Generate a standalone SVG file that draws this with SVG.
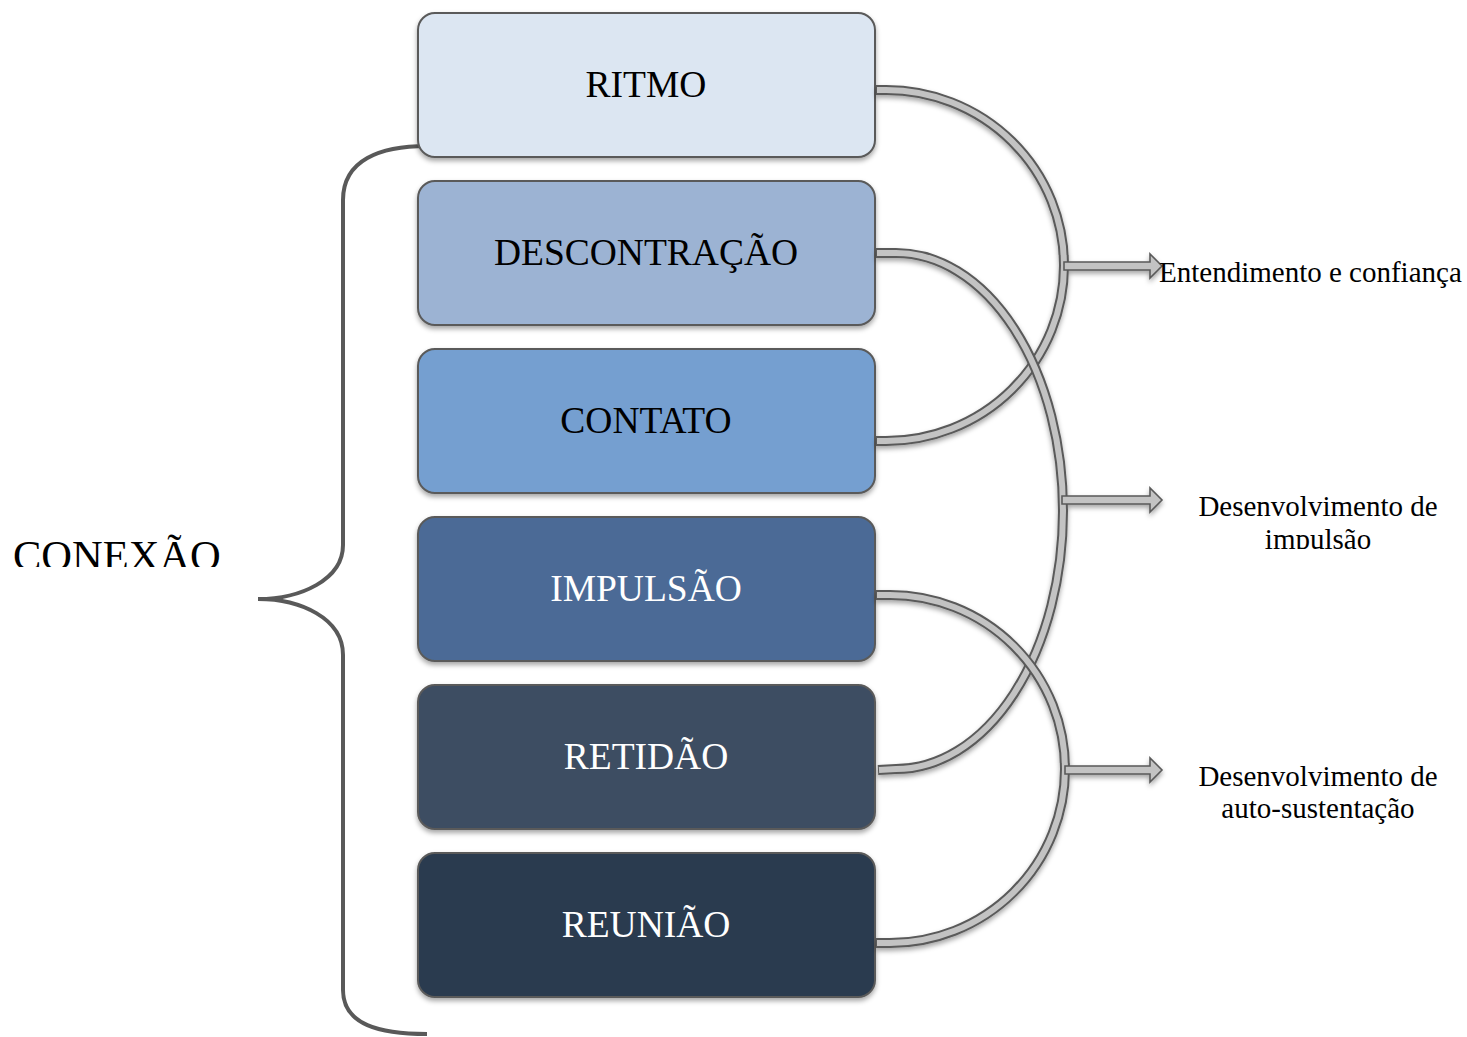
<svg xmlns="http://www.w3.org/2000/svg" width="1467" height="1037" viewBox="0 0 1467 1037">
<defs>
<filter id="sh" x="-10%" y="-10%" width="120%" height="130%">
<feDropShadow dx="0" dy="3" stdDeviation="2.5" flood-color="#000" flood-opacity="0.35"/>
</filter>
<clipPath id="clipCon"><rect x="0" y="500" width="300" height="67"/></clipPath>
<clipPath id="clipImp"><rect x="1150" y="480" width="317" height="69"/></clipPath>
</defs>
<style>
.box{stroke:#5a5a5a;stroke-width:2;filter:url(#sh)}
.lbl{font-family:"Liberation Serif",serif;font-size:37.5px;text-anchor:middle}
.dk{fill:#000}
.wt{fill:#fff}
.bandO{fill:none;stroke:#5a5a5a;stroke-width:10}
.bandI{fill:none;stroke:#c3c3c3;stroke-width:6}
.arr{fill:#c3c3c3;stroke:#5a5a5a;stroke-width:1.6;stroke-linejoin:miter}
.out{font-family:"Liberation Serif",serif;font-size:29px;fill:#000}
</style>
<g id="brace">
<path d="M427,146 C380,146 343,160 343,200 L343,545 C343,580 300,599 258,599 C300,599 343,618 343,655 L343,990 C343,1025 380,1034 427,1034" fill="none" stroke="#595959" stroke-width="4"/>
</g>
<g id="conexao">
<text x="13" y="570" font-family="Liberation Serif,serif" font-size="42.5" fill="#000" clip-path="url(#clipCon)">CONEXÃO</text>
</g>
<g id="node-ritmo">
<rect class="box" x="418" y="13" width="457" height="144" rx="17" fill="#dce6f2"/>
<text class="lbl dk" x="646" y="97">RITMO</text>
</g>
<g id="node-descontracao">
<rect class="box" x="418" y="181" width="457" height="144" rx="17" fill="#9cb3d3"/>
<text class="lbl dk" x="646" y="265">DESCONTRAÇÃO</text>
</g>
<g id="node-contato">
<rect class="box" x="418" y="349" width="457" height="144" rx="17" fill="#749fd0"/>
<text class="lbl dk" x="646" y="433">CONTATO</text>
</g>
<g id="node-impulsao">
<rect class="box" x="418" y="517" width="457" height="144" rx="17" fill="#4b6b96"/>
<text class="lbl wt" x="646" y="601">IMPULSÃO</text>
</g>
<g id="node-retidao">
<rect class="box" x="418" y="685" width="457" height="144" rx="17" fill="#3e4d62"/>
<text class="lbl wt" x="646" y="769">RETIDÃO</text>
</g>
<g id="node-reuniao">
<rect class="box" x="418" y="853" width="457" height="144" rx="17" fill="#293a4f"/>
<text class="lbl wt" x="646" y="937">REUNIÃO</text>
</g>
<g id="connectors" filter="url(#sh)">
<path class="bandO" d="M876,90 L886,90 A178,175.5 0 0 1 886,441 L876,441"/>
<path class="bandI" d="M877,90 L886,90 A178,175.5 0 0 1 886,441 L877,441"/>
<path class="arr" d="M1064,262 L1150,262 L1150,254 L1162,266 L1150,278 L1150,270 L1064,270 Z"/>
<path class="bandO" d="M876,253 L896,253 A167,258 0 0 1 896,769 L878,770"/>
<path class="bandI" d="M877,253 L896,253 A167,258 0 0 1 896,769 L879,770"/>
<path class="arr" d="M1062,496 L1150,496 L1150,488 L1162,500 L1150,512 L1150,504 L1062,504 Z"/>
<path class="bandO" d="M876,595 L890,595 A175,174 0 0 1 890,943 L876,943"/>
<path class="bandI" d="M877,595 L890,595 A175,174 0 0 1 890,943 L877,943"/>
<path class="arr" d="M1065,766 L1150,766 L1150,758 L1162,770 L1150,782 L1150,774 L1065,774 Z"/>
</g>
<g id="label-1">
<text class="out" x="1159" y="282">Entendimento e confiança</text>
</g>
<g id="label-2">
<text class="out" x="1318" y="516" text-anchor="middle">Desenvolvimento de</text>
<text class="out" x="1318" y="549" text-anchor="middle" clip-path="url(#clipImp)">impulsão</text>
</g>
<g id="label-3">
<text class="out" x="1318" y="786" text-anchor="middle">Desenvolvimento de</text>
<text class="out" x="1318" y="818" text-anchor="middle">auto-sustentação</text>
</g>
</svg>
